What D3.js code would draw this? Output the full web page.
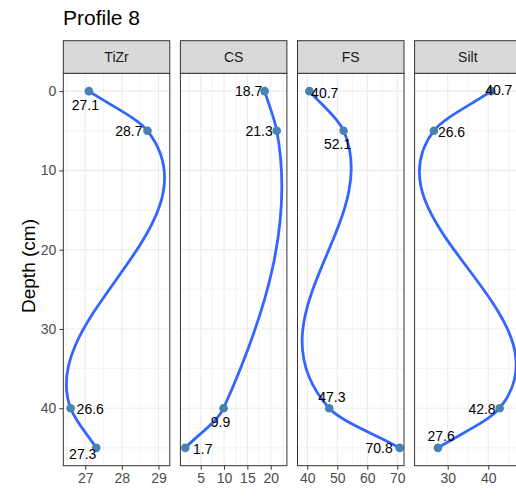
<!DOCTYPE html>
<html><head><meta charset="utf-8">
<script src="https://cdn.jsdelivr.net/npm/d3@7"></script>
<style>
body{margin:0;background:#fff}
svg{display:block}
text{font-family:"Liberation Sans",Arial,Helvetica,sans-serif}
</style>
</head><body>
<svg id="chart" width="516" height="497"></svg>
<script>
// ---------- data ----------
const chartTitle = "Profile 8";
const yTitle = "Depth (cm)";
const variables = ["TiZr", "CS", "FS", "Silt"];
const depths = [0, 5, 40, 45];
const tizrValues = [27.1, 28.7, 26.6, 27.3];
const csValues = [18.7, 21.3, 9.9, 1.7];
const fsValues = [40.7, 52.1, 47.3, 70.8];
const siltValues = [40.7, 26.6, 42.8, 27.6];
const yTicks = [0, 10, 20, 30, 40];
const tizrTicks = [27, 28, 29];
const csTicks = [5, 10, 15, 20];
const fsTicks = [40, 50, 60, 70];
const siltTicks = [30, 40, 50];
const tizrLimits = [26.40, 29.31];
const csLimits = [0.65, 23.47];
const fsLimits = [36.73, 72.23];
const siltLimits = [21.85, 48.08];
const depthLimits = [-2.25, 47.25];

// label placement (style): [anchor, dx, dy] relative to the point
const labelPlacement = [
  [["middle", -3.5, 19], ["end", -5, 5], ["start", 6, 6], ["middle", -13.5, 11.3]],
  [["end", -2.4, 5], ["end", -4, 5.5], ["middle", -3, 19.2], ["start", 7.7, 6]],
  [["start", 1.7, 6.8], ["middle", -6, 18.5], ["middle", 2.7, -5.8], ["end", -7, 5.5]],
  [["start", -6, 4], ["start", 4, 6.5], ["end", -4, 5.7], ["middle", 3.2, -7]]
];

const panels = [
  {name: variables[0], values: tizrValues, ticks: tizrTicks, limits: tizrLimits},
  {name: variables[1], values: csValues, ticks: csTicks, limits: csLimits},
  {name: variables[2], values: fsValues, ticks: fsTicks, limits: fsLimits},
  {name: variables[3], values: siltValues, ticks: siltTicks, limits: siltLimits}
];

// ---------- layout ----------
const svg = d3.select("#chart");
const panelLeft = 63.3, panelW = 106.5, panelGap = 10.6;
const stripTop = 40.7, stripBottom = 73.3, panelBottom = 465.7;
const gridCol = "#EBEBEB", borderCol = "#333333";
const lineCol = "#3366FF", pointCol = "#4682B4";

const y = d3.scaleLinear().domain(depthLimits).range([stripBottom, panelBottom]);

// custom smooth curve: x as a cubic Hermite function of y
function curveHermiteY(wShort, wLong) {
  function C(context) { this._context = context; }
  C.prototype = {
    areaStart() {}, areaEnd() {},
    lineStart() { this._pts = []; },
    point(px, py) { this._pts.push([+px, +py]); },
    lineEnd() {
      const p = this._pts, n = p.length, ctx = this._context;
      if (!n) return;
      ctx.moveTo(p[0][0], p[0][1]);
      if (n === 1) return;
      const d = [], h = [];
      for (let i = 0; i < n - 1; i++) {
        h.push(p[i+1][1] - p[i][1]);
        d.push((p[i+1][0] - p[i][0]) / h[i]);
      }
      const m = [];
      for (let i = 0; i < n; i++) {
        if (i === 0) m.push(d[0]);
        else if (i === n - 1) m.push(d[n - 2]);
        else {
          const hp = Math.abs(h[i-1]), hn = Math.abs(h[i]);
          if (Math.abs(hp - hn) < 1e-9) m.push(0.5 * (d[i-1] + d[i]));
          else if (hp < hn) m.push(wShort * d[i-1] + wLong * d[i]);
          else m.push(wShort * d[i] + wLong * d[i-1]);
        }
      }
      for (let i = 0; i < n - 1; i++) {
        const hh = h[i];
        ctx.bezierCurveTo(
          p[i][0] + m[i] * hh / 3, p[i][1] + hh / 3,
          p[i+1][0] - m[i+1] * hh / 3, p[i+1][1] - hh / 3,
          p[i+1][0], p[i+1][1]);
      }
    }
  };
  return ctx => new C(ctx);
}

// title
svg.append("text").attr("x", 63).attr("y", 25)
  .attr("font-size", 21).attr("fill", "#000").text(chartTitle);

// y axis title
svg.append("text")
  .attr("transform", "translate(35,266) rotate(-90)")
  .attr("text-anchor", "middle").attr("font-size", 19).attr("fill", "#000")
  .text(yTitle);

// y minor breaks from major ticks
const yStep = yTicks[1] - yTicks[0];
const yMinor = d3.range(yTicks[0] - yStep / 2, yTicks[yTicks.length - 1] + yStep, yStep)
  .filter(v => v >= depthLimits[0] && v <= depthLimits[1]);

panels.forEach((pn, pi) => {
  const x0 = panelLeft + pi * (panelW + panelGap);
  const x = d3.scaleLinear().domain(pn.limits).range([x0, x0 + panelW]);
  const g = svg.append("g");

  g.append("rect").attr("x", x0).attr("y", stripBottom)
    .attr("width", panelW).attr("height", panelBottom - stripBottom).attr("fill", "#fff");

  const xStep = pn.ticks[1] - pn.ticks[0];
  const xMinor = d3.range(pn.ticks[0] - xStep / 2, pn.ticks[pn.ticks.length - 1] + xStep, xStep)
    .filter(v => v >= pn.limits[0] && v <= pn.limits[1]);
  const xMajor = pn.ticks.filter(v => v >= pn.limits[0] && v <= pn.limits[1]);

  // minor grid
  g.selectAll(".ymin").data(yMinor).join("line")
    .attr("x1", x0).attr("x2", x0 + panelW).attr("y1", d => y(d)).attr("y2", d => y(d))
    .attr("stroke", gridCol).attr("stroke-width", 0.6);
  g.selectAll(".xmin").data(xMinor).join("line")
    .attr("y1", stripBottom).attr("y2", panelBottom).attr("x1", d => x(d)).attr("x2", d => x(d))
    .attr("stroke", gridCol).attr("stroke-width", 0.6);
  // major grid
  g.selectAll(".ymaj").data(yTicks).join("line")
    .attr("x1", x0).attr("x2", x0 + panelW).attr("y1", d => y(d)).attr("y2", d => y(d))
    .attr("stroke", gridCol).attr("stroke-width", 1.1);
  g.selectAll(".xmaj").data(xMajor).join("line")
    .attr("y1", stripBottom).attr("y2", panelBottom).attr("x1", d => x(d)).attr("x2", d => x(d))
    .attr("stroke", gridCol).attr("stroke-width", 1.1);

  const pts = pn.values.map((v, i) => ({v, d: depths[i], i}));

  const clipId = "clip" + pi;
  svg.append("clipPath").attr("id", clipId).append("rect")
    .attr("x", x0).attr("y", stripBottom).attr("width", panelW).attr("height", panelBottom - stripBottom);

  const line = d3.line().x(p => x(p.v)).y(p => y(p.d)).curve(curveHermiteY(0.5, -0.18));
  g.append("path").datum(pts).attr("clip-path", `url(#${clipId})`)
    .attr("d", line).attr("fill", "none").attr("stroke", lineCol).attr("stroke-width", 2.8)
    .attr("stroke-linecap", "round");

  g.selectAll("circle").data(pts).join("circle")
    .attr("cx", p => x(p.v)).attr("cy", p => y(p.d)).attr("r", 4.3).attr("fill", pointCol);

  g.selectAll(".lab").data(pts).join("text")
    .attr("x", p => x(p.v) + labelPlacement[pi][p.i][1])
    .attr("y", p => y(p.d) + labelPlacement[pi][p.i][2])
    .attr("text-anchor", p => labelPlacement[pi][p.i][0])
    .attr("font-size", 14).attr("fill", "#000")
    .text(p => d3.format(".1f")(p.v));

  // panel border
  g.append("rect").attr("x", x0).attr("y", stripBottom)
    .attr("width", panelW).attr("height", panelBottom - stripBottom)
    .attr("fill", "none").attr("stroke", borderCol).attr("stroke-width", 1);

  // strip
  g.append("rect").attr("x", x0).attr("y", stripTop)
    .attr("width", panelW).attr("height", stripBottom - stripTop)
    .attr("fill", "#D9D9D9").attr("stroke", borderCol).attr("stroke-width", 1);
  g.append("text").attr("x", x0 + panelW / 2).attr("y", (stripTop + stripBottom) / 2 + 5)
    .attr("text-anchor", "middle").attr("font-size", 14).attr("fill", "#1A1A1A").text(pn.name);

  // x axis
  const xAxis = d3.axisBottom(x).tickValues(xMajor).tickSize(4).tickPadding(3)
    .tickFormat(d3.format("d"));
  const ax = svg.append("g").attr("transform", `translate(0,${panelBottom})`).call(xAxis);
  ax.select(".domain").remove();
  ax.selectAll(".tick line").attr("stroke", borderCol);
  ax.selectAll(".tick text").attr("font-size", 14).attr("fill", "#4D4D4D")
    .attr("font-family", '"Liberation Sans",Arial,sans-serif');

  if (pi === 0) {
    const yAxis = d3.axisLeft(y).tickValues(yTicks).tickSize(4).tickPadding(3);
    const ay = svg.append("g").attr("transform", `translate(${x0},0)`).call(yAxis);
    ay.select(".domain").remove();
    ay.selectAll(".tick line").attr("stroke", borderCol);
    ay.selectAll(".tick text").attr("font-size", 14).attr("fill", "#4D4D4D")
      .attr("font-family", '"Liberation Sans",Arial,sans-serif');
  }
});
</script>
</body></html>
